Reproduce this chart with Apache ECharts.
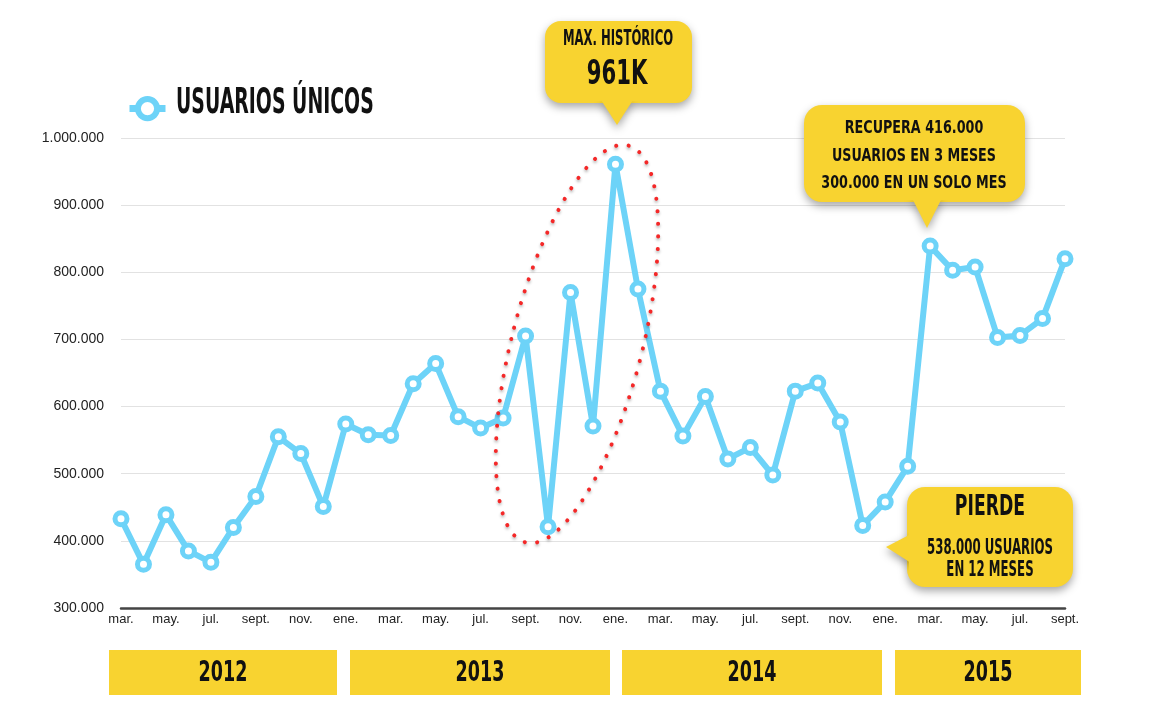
<!DOCTYPE html>
<html>
<head>
<meta charset="utf-8">
<script src="https://cdn.jsdelivr.net/npm/echarts@6/dist/echarts.min.js"></script>
<style>html,body{margin:0;padding:0;background:#fff;}#c{width:1153px;height:717px;}</style>
</head>
<body>
<div id="c"></div>
<script>
const months = ['mar.','abr.','may.','jun.','jul.','ago.','sept.','oct.','nov.','dic.',
  'ene.','feb.','mar.','abr.','may.','jun.','jul.','ago.','sept.','oct.','nov.','dic.',
  'ene.','feb.','mar.','abr.','may.','jun.','jul.','ago.','sept.','oct.','nov.','dic.',
  'ene.','feb.','mar.','abr.','may.','jun.','jul.','ago.','sept.'];
const users = [433000,365000,439000,385000,368000,420000,466000,555000,530000,451000,
  574000,558000,557000,634000,664000,585000,568000,583000,705000,421000,770000,571000,
  961000,775000,623000,556000,615000,522000,539000,498000,623000,635000,577000,423000,
  458000,511000,839000,803000,808000,703000,706000,731000,820000];
const seriesName = 'USUARIOS ÚNICOS';
const years = ['2012','2013','2014','2015'];
const note1 = ['MAX. HISTÓRICO','961K'];
const note2 = ['RECUPERA 416.000','USUARIOS EN 3 MESES','300.000 EN UN SOLO MES'];
const note3 = ['PIERDE','538.000 USUARIOS','EN 12 MESES'];

const COND = '"DejaVu Sans Condensed","Liberation Sans Narrow",sans-serif';
const YEL = '#F8D330';
const BLUE = '#6DD3F8';
const shadow = {shadowColor:'rgba(0,0,0,0.35)', shadowBlur:8, shadowOffsetY:4};

function fmt(v){ return String(v).replace(/\B(?=(\d{3})+(?!\d))/g,'.'); }
function txt(t,x,y,fs,sx,sy,align){
  return {type:'text', x:x, y:y, scaleX:sx, scaleY:sy, z:20,
    style:{text:t, x:0, y:0, fill:'#111', font:'bold '+fs+'px '+COND, textAlign:align||'center', textVerticalAlign:'middle'}};
}
const yearBoxes = [[109,337],[350,610],[622,882],[895,1081]];
const graphics = [];
years.forEach((y,i)=>{
  const b = yearBoxes[i];
  graphics.push({type:'rect', shape:{x:b[0],y:650,width:b[1]-b[0],height:45}, style:{fill:YEL}, z:5});
  graphics.push(txt(y,(b[0]+b[1])/2,673,26,0.75,1.12));
});
// callout 1
graphics.push({type:'rect', shape:{x:545,y:21,width:147,height:82,r:16}, style:Object.assign({fill:YEL},shadow), z:10});
graphics.push({type:'polygon', shape:{points:[[601,100],[633,100],[617,125]]}, style:Object.assign({fill:YEL},shadow), z:10});
graphics.push({type:'rect', shape:{x:547,y:23,width:143,height:78,r:14}, style:{fill:YEL}, z:11});
graphics.push(txt(note1[0],618,40,16,0.81,1.28));
graphics.push(txt(note1[1],617,75,31,0.76,1.1));
// callout 2
graphics.push({type:'rect', shape:{x:804,y:105,width:221,height:97,r:18}, style:Object.assign({fill:YEL},shadow), z:10});
graphics.push({type:'polygon', shape:{points:[[912,198],[942,198],[927,228]]}, style:Object.assign({fill:YEL},shadow), z:10});
graphics.push({type:'rect', shape:{x:806,y:107,width:217,height:93,r:16}, style:{fill:YEL}, z:11});
graphics.push(txt(note2[0],914,128,17.5,0.81,1.05));
graphics.push(txt(note2[1],914,156,17.5,0.81,1.05));
graphics.push(txt(note2[2],914,183,17.5,0.81,1.05));
// callout 3
graphics.push({type:'rect', shape:{x:907,y:487,width:166,height:100,r:18}, style:Object.assign({fill:YEL},shadow), z:10});
graphics.push({type:'polygon', shape:{points:[[911,534],[911,563],[886,547]]}, style:Object.assign({fill:YEL},shadow), z:10});
graphics.push({type:'rect', shape:{x:909,y:489,width:162,height:96,r:16}, style:{fill:YEL}, z:11});
graphics.push(txt(note3[0],990,508,24,0.8,1.2));
graphics.push(txt(note3[1],990,549,17,0.77,1.2));
graphics.push(txt(note3[2],990,571,17,0.77,1.2));
// legend title
graphics.push(txt(seriesName,176,104,25,0.84,1.45,'left'));
// dotted ellipse
graphics.push({type:'ellipse', x:577, y:344, rotation:-0.253, shape:{cx:0,cy:0,rx:65,ry:205}, z:30,
  style:{fill:'none', stroke:'#F42828', lineWidth:4, lineDash:[0.1,12.5], lineCap:'round',
    shadowColor:'rgba(0,0,0,0.3)', shadowBlur:3, shadowOffsetY:2}});

const chart = echarts.init(document.getElementById('c'));
chart.setOption({
  animation:false,
  backgroundColor:'#fff',
  legend:{show:true, left:121, top:91, itemWidth:36, itemHeight:24, formatter:()=>'',
    itemStyle:{color:'#fff', borderColor:BLUE, borderWidth:6},
    lineStyle:{color:BLUE, width:7},
    data:[seriesName]},
  grid:{left:121, right:88, top:138, bottom:109},
  xAxis:{type:'category', data:months, boundaryGap:false,
    axisLine:{lineStyle:{color:'#444', width:2.5}}, axisTick:{show:false},
    axisLabel:{interval:1, color:'#222', fontSize:13, fontFamily:'"Liberation Sans",Arial,sans-serif', margin:5}},
  yAxis:{type:'value', min:300000, max:1000000, interval:100000,
    axisLine:{show:false}, axisTick:{show:false},
    splitLine:{lineStyle:{color:'#e2e2e2', width:1}},
    axisLabel:{formatter:fmt, color:'#222', fontSize:14, fontFamily:'"Liberation Sans",Arial,sans-serif', margin:17}},
  series:[{name:seriesName, type:'line', data:users, symbol:'circle', symbolSize:12,
    lineStyle:{color:BLUE, width:6}, itemStyle:{color:'#fff', borderColor:BLUE, borderWidth:5},
    z:3}],
  graphic:graphics
});
</script>
</body>
</html>
